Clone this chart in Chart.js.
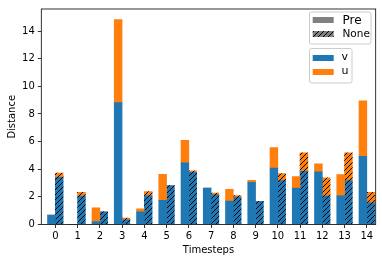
<!DOCTYPE html>
<html>
<head>
<meta charset="utf-8">
<script src="https://cdn.jsdelivr.net/npm/chart.js@4/dist/chart.umd.min.js"></script>
<style>
html,body{margin:0;padding:0;background:#fff;}
#c{display:block;}
</style>
</head>
<body>
<canvas id="c" width="382" height="262"></canvas>
<script>
// ---- data ----
const categories = ['0','1','2','3','4','5','6','7','8','9','10','11','12','13','14'];
const preV  = [0.68, 0, 0.22, 8.82, 0.92, 1.75, 4.46, 2.63, 1.70, 3.06, 4.08, 2.63, 3.82, 2.10, 4.94];
const preU  = [0, 0, 0.98, 6.02, 0.21, 1.88, 1.64, 0, 0.84, 0.14, 1.48, 0.83, 0.57, 1.51, 4.02];
const noneV = [3.41, 2.06, 0.92, 0.34, 2.10, 2.82, 3.77, 2.15, 1.99, 1.68, 3.18, 3.85, 2.06, 3.18, 1.56];
const noneU = [0.32, 0.26, 0, 0.12, 0.29, 0, 0.12, 0.12, 0.11, 0, 0.50, 1.33, 1.31, 2.00, 0.76];
const yTicks = [0, 2, 4, 6, 8, 10, 12, 14];
const legendStyle = ['Pre', 'None'];
const legendSeries = ['v', 'u'];

const BLUE = '#1f77b4', ORANGE = '#ff7f0e', GREY = '#808080';
const FONT = "'DejaVu Sans', sans-serif";

function hatch(color) {
  const s = 5;
  const t = document.createElement('canvas');
  t.width = s; t.height = s;
  const g = t.getContext('2d');
  g.fillStyle = color; g.fillRect(0, 0, s, s);
  g.strokeStyle = '#000'; g.lineWidth = 1;
  g.beginPath();
  g.moveTo(0, s); g.lineTo(s, 0);
  g.moveTo(-1, 1); g.lineTo(1, -1);
  g.moveTo(s - 1, s + 1); g.lineTo(s + 1, s - 1);
  g.stroke();
  return g.createPattern(t, 'repeat');
}

const pts = arr => arr.map((v, i) => ({x: i, y: v}));

const framePlugin = {
  id: 'frame',
  afterDraw(chart) {
    const {ctx, chartArea: a} = chart;
    ctx.save();
    ctx.strokeStyle = '#000'; ctx.lineWidth = 0.8;
    ctx.strokeRect(a.left, a.top, a.right - a.left, a.bottom - a.top);

    function box(x, y, w, h) {
      const r = 2;
      ctx.beginPath();
      ctx.moveTo(x + r, y); ctx.lineTo(x + w - r, y); ctx.quadraticCurveTo(x + w, y, x + w, y + r);
      ctx.lineTo(x + w, y + h - r); ctx.quadraticCurveTo(x + w, y + h, x + w - r, y + h);
      ctx.lineTo(x + r, y + h); ctx.quadraticCurveTo(x, y + h, x, y + h - r);
      ctx.lineTo(x, y + r); ctx.quadraticCurveTo(x, y, x + r, y);
      ctx.closePath();
      ctx.fillStyle = 'rgba(255,255,255,0.8)'; ctx.fill();
      ctx.strokeStyle = '#cccccc'; ctx.lineWidth = 1; ctx.stroke();
    }
    box(309.5, 12, 61.5, 32);
    box(309.5, 48.5, 42.5, 34.5);

    ctx.fillStyle = GREY; ctx.fillRect(312.7, 17, 21, 6);
    ctx.fillStyle = hatch(GREY); ctx.fillRect(312.7, 31, 21, 6);
    ctx.fillStyle = BLUE; ctx.fillRect(312.7, 55, 21, 6);
    ctx.fillStyle = ORANGE; ctx.fillRect(312.7, 69, 21, 6);

    ctx.fillStyle = '#000'; ctx.textBaseline = 'middle'; ctx.textAlign = 'left';
    ctx.font = '12px ' + FONT; ctx.fillText(legendStyle[0], 342.5, 20.5);
    ctx.font = '10.5px ' + FONT; ctx.fillText(legendStyle[1], 342.5, 34.5);
    ctx.font = '11px ' + FONT; ctx.fillText(legendSeries[0], 341.5, 57.5);
    ctx.fillText(legendSeries[1], 341.5, 71.5);
    ctx.restore();
  }
};

new Chart(document.getElementById('c'), {
  type: 'bar',
  data: {
    datasets: [
      {label: 'v Pre',  data: pts(preV),  backgroundColor: BLUE,   stack: 'pre'},
      {label: 'u Pre',  data: pts(preU),  backgroundColor: ORANGE, stack: 'pre'},
      {label: 'v None', data: pts(noneV), backgroundColor: hatch(BLUE),   stack: 'none'},
      {label: 'u None', data: pts(noneU), backgroundColor: hatch(ORANGE), stack: 'none'}
    ]
  },
  options: {
    responsive: false,
    animation: false,
    events: [],
    barThickness: 7.8,
    borderWidth: 0,
    layout: {padding: {top: 6.7, right: 6.3, left: 0, bottom: 0}},
    plugins: {legend: {display: false}, tooltip: {enabled: false}},
    scales: {
      x: {
        type: 'linear', stacked: true, min: -0.63, max: 14.4, offset: false,
        afterBuildTicks: s => { s.ticks = categories.map((c, i) => ({value: i})); },
        afterFit: s => { s.height = 37.5; },
        border: {display: false},
        grid: {display: true, offset: false, drawOnChartArea: false, drawTicks: true, tickLength: 3.5, tickColor: '#000', tickWidth: 0.8},
        ticks: {color: '#000', font: {family: FONT, size: 10}, padding: 2, maxRotation: 0, autoSkip: false,
                callback: v => categories[v]},
        title: {display: true, text: 'Timesteps', color: '#000', font: {family: FONT, size: 10}, padding: {top: 0, bottom: 5.3}}
      },
      y: {
        stacked: true, min: 0, max: 15.6,
        afterBuildTicks: s => { s.ticks = yTicks.map(v => ({value: v})); },
        afterFit: s => { s.width = 41.3; },
        border: {display: false},
        grid: {display: true, drawOnChartArea: false, drawTicks: true, tickLength: 3.5, tickColor: '#000', tickWidth: 0.8},
        ticks: {color: '#000', font: {family: FONT, size: 10}, padding: 3, autoSkip: false},
        title: {display: true, text: 'Distance', color: '#000', font: {family: FONT, size: 10}, padding: {top: 6, bottom: 0}}
      }
    }
  },
  plugins: [framePlugin]
});
</script>
</body>
</html>
